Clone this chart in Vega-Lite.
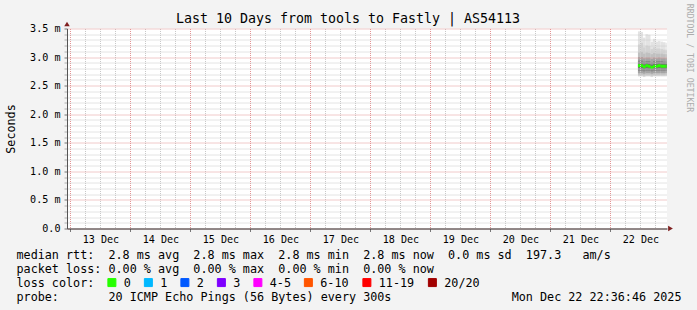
{
  "$schema": "https://vega.github.io/schema/vega-lite/v6.json",
  "autosize": {"type": "none"},
  "width": 600,
  "height": 200,
  "padding": {"left": 67, "top": 28.5, "right": 30, "bottom": 81.5},
  "background": "#f3f3f3",
  "config": {
    "font": "DejaVu Sans Mono",
    "view": {"fill": "white", "stroke": null}
  },
  "title": {
    "text": "Last 10 Days from tools to Fastly | AS54113",
    "font": "DejaVu Sans Mono",
    "fontSize": 13.3,
    "fontWeight": "normal",
    "color": "black",
    "anchor": "middle",
    "frame": "group",
    "dx": -19,
    "offset": -33.3,
    "baseline": "alphabetic"
  },
  "data": {
    "values": [
      {"start": "2025-12-22T11:00:00", "end": "2025-12-22T12:00:00", "min": 0.00266, "p05": 0.00267, "p10": 0.00269, "p20": 0.00272, "p30": 0.00276, "p40": 0.00281, "med": 0.00285, "p60": 0.00289, "p70": 0.00294, "p80": 0.00300, "p90": 0.00308, "p95": 0.00322, "max": 0.00345, "loss": "0"},
      {"start": "2025-12-22T12:00:00", "end": "2025-12-22T13:00:00", "min": 0.00266, "p05": 0.00267, "p10": 0.00269, "p20": 0.00272, "p30": 0.00276, "p40": 0.00281, "med": 0.00285, "p60": 0.00289, "p70": 0.00294, "p80": 0.00300, "p90": 0.00309, "p95": 0.00325, "max": 0.00344, "loss": "0"},
      {"start": "2025-12-22T13:00:00", "end": "2025-12-22T14:00:00", "min": 0.00265, "p05": 0.00266, "p10": 0.00268, "p20": 0.00271, "p30": 0.00275, "p40": 0.00279, "med": 0.00283, "p60": 0.00287, "p70": 0.00292, "p80": 0.00298, "p90": 0.00306, "p95": 0.00317, "max": 0.00334, "loss": "0"},
      {"start": "2025-12-22T14:00:00", "end": "2025-12-22T15:00:00", "min": 0.00266, "p05": 0.00267, "p10": 0.00269, "p20": 0.00272, "p30": 0.00276, "p40": 0.00281, "med": 0.00285, "p60": 0.00289, "p70": 0.00293, "p80": 0.00299, "p90": 0.00308, "p95": 0.00320, "max": 0.00340, "loss": "0"},
      {"start": "2025-12-22T15:00:00", "end": "2025-12-22T16:00:00", "min": 0.00266, "p05": 0.00267, "p10": 0.00269, "p20": 0.00272, "p30": 0.00276, "p40": 0.00280, "med": 0.00284, "p60": 0.00288, "p70": 0.00293, "p80": 0.00299, "p90": 0.00307, "p95": 0.00319, "max": 0.00339, "loss": "0"},
      {"start": "2025-12-22T16:00:00", "end": "2025-12-22T17:00:00", "min": 0.00265, "p05": 0.00266, "p10": 0.00268, "p20": 0.00271, "p30": 0.00275, "p40": 0.00279, "med": 0.00282, "p60": 0.00286, "p70": 0.00291, "p80": 0.00297, "p90": 0.00305, "p95": 0.00314, "max": 0.00327, "loss": "0"},
      {"start": "2025-12-22T17:00:00", "end": "2025-12-22T18:00:00", "min": 0.00266, "p05": 0.00267, "p10": 0.00269, "p20": 0.00272, "p30": 0.00276, "p40": 0.00280, "med": 0.00284, "p60": 0.00288, "p70": 0.00293, "p80": 0.00299, "p90": 0.00307, "p95": 0.00317, "max": 0.00332, "loss": "0"},
      {"start": "2025-12-22T18:00:00", "end": "2025-12-22T19:00:00", "min": 0.00266, "p05": 0.00267, "p10": 0.00269, "p20": 0.00272, "p30": 0.00276, "p40": 0.00280, "med": 0.00284, "p60": 0.00288, "p70": 0.00293, "p80": 0.00298, "p90": 0.00306, "p95": 0.00315, "max": 0.00327, "loss": "0"},
      {"start": "2025-12-22T19:00:00", "end": "2025-12-22T20:00:00", "min": 0.00266, "p05": 0.00267, "p10": 0.00269, "p20": 0.00272, "p30": 0.00276, "p40": 0.00281, "med": 0.00285, "p60": 0.00289, "p70": 0.00293, "p80": 0.00299, "p90": 0.00306, "p95": 0.00315, "max": 0.00328, "loss": "0"},
      {"start": "2025-12-22T20:00:00", "end": "2025-12-22T21:00:00", "min": 0.00266, "p05": 0.00267, "p10": 0.00269, "p20": 0.00272, "p30": 0.00276, "p40": 0.00280, "med": 0.00284, "p60": 0.00288, "p70": 0.00293, "p80": 0.00298, "p90": 0.00306, "p95": 0.00314, "max": 0.00327, "loss": "0"},
      {"start": "2025-12-22T21:00:00", "end": "2025-12-22T22:00:00", "min": 0.00266, "p05": 0.00267, "p10": 0.00269, "p20": 0.00272, "p30": 0.00276, "p40": 0.00280, "med": 0.00284, "p60": 0.00288, "p70": 0.00292, "p80": 0.00298, "p90": 0.00305, "p95": 0.00313, "max": 0.00326, "loss": "0"},
      {"start": "2025-12-22T22:00:00", "end": "2025-12-22T22:30:00", "min": 0.00266, "p05": 0.00267, "p10": 0.00269, "p20": 0.00272, "p30": 0.00276, "p40": 0.00280, "med": 0.00284, "p60": 0.00288, "p70": 0.00292, "p80": 0.00298, "p90": 0.00305, "p95": 0.00313, "max": 0.00325, "loss": "0"}
    ]
  },
  "resolve": {"axis": {"x": "independent", "y": "independent"}},
  "layer": [
    {
      "mark": {"type": "rect", "color": "#e3e3e3"},
      "encoding": {
        "x": {
          "field": "start", "type": "temporal",
          "scale": {"domain": [{"year": 2025, "month": 12, "date": 12, "hours": 22, "minutes": 36, "seconds": 46}, {"year": 2025, "month": 12, "date": 22, "hours": 22, "minutes": 36, "seconds": 46}], "nice": false},
          "axis": {
            "orient": "bottom",
            "zindex": 1,
            "values": [
              {"year": 2025, "month": 12, "date": 13, "hours": 0}, {"year": 2025, "month": 12, "date": 13, "hours": 6}, {"year": 2025, "month": 12, "date": 13, "hours": 12}, {"year": 2025, "month": 12, "date": 13, "hours": 18},
              {"year": 2025, "month": 12, "date": 14, "hours": 0}, {"year": 2025, "month": 12, "date": 14, "hours": 6}, {"year": 2025, "month": 12, "date": 14, "hours": 12}, {"year": 2025, "month": 12, "date": 14, "hours": 18},
              {"year": 2025, "month": 12, "date": 15, "hours": 0}, {"year": 2025, "month": 12, "date": 15, "hours": 6}, {"year": 2025, "month": 12, "date": 15, "hours": 12}, {"year": 2025, "month": 12, "date": 15, "hours": 18},
              {"year": 2025, "month": 12, "date": 16, "hours": 0}, {"year": 2025, "month": 12, "date": 16, "hours": 6}, {"year": 2025, "month": 12, "date": 16, "hours": 12}, {"year": 2025, "month": 12, "date": 16, "hours": 18},
              {"year": 2025, "month": 12, "date": 17, "hours": 0}, {"year": 2025, "month": 12, "date": 17, "hours": 6}, {"year": 2025, "month": 12, "date": 17, "hours": 12}, {"year": 2025, "month": 12, "date": 17, "hours": 18},
              {"year": 2025, "month": 12, "date": 18, "hours": 0}, {"year": 2025, "month": 12, "date": 18, "hours": 6}, {"year": 2025, "month": 12, "date": 18, "hours": 12}, {"year": 2025, "month": 12, "date": 18, "hours": 18},
              {"year": 2025, "month": 12, "date": 19, "hours": 0}, {"year": 2025, "month": 12, "date": 19, "hours": 6}, {"year": 2025, "month": 12, "date": 19, "hours": 12}, {"year": 2025, "month": 12, "date": 19, "hours": 18},
              {"year": 2025, "month": 12, "date": 20, "hours": 0}, {"year": 2025, "month": 12, "date": 20, "hours": 6}, {"year": 2025, "month": 12, "date": 20, "hours": 12}, {"year": 2025, "month": 12, "date": 20, "hours": 18},
              {"year": 2025, "month": 12, "date": 21, "hours": 0}, {"year": 2025, "month": 12, "date": 21, "hours": 6}, {"year": 2025, "month": 12, "date": 21, "hours": 12}, {"year": 2025, "month": 12, "date": 21, "hours": 18},
              {"year": 2025, "month": 12, "date": 22, "hours": 0}, {"year": 2025, "month": 12, "date": 22, "hours": 6}, {"year": 2025, "month": 12, "date": 22, "hours": 12}, {"year": 2025, "month": 12, "date": 22, "hours": 18}
            ],
            "labelExpr": "hours(datum.value) == 12 ? timeFormat(datum.value, '%d %b') : ''",
            "labelOverlap": false,
            "labelFlush": false,
            "labelBound": false,
            "labelFont": "DejaVu Sans Mono",
            "labelFontSize": 10.1,
            "labelColor": "black",
            "labelPadding": 3,
            "grid": true,
            "gridColor": {"condition": {"test": "hours(datum.value) == 0", "value": "#e39494"}, "value": "#c8c8c8"},
            "gridDash": [1, 1],
            "gridWidth": 1,
            "ticks": true,
            "tickSize": 3,
            "tickColor": {"condition": {"test": "hours(datum.value) == 0", "value": "#777777"}, "value": "transparent"},
            "domainColor": "#333333",
            "domainWidth": 1,
            "title": [
              "median rtt: \u00a02.8 ms avg \u00a02.8 ms max \u00a02.8 ms min \u00a02.8 ms now \u00a00.0 ms sd \u00a0197.3 \u00a0\u00a0am/s",
              "packet loss: 0.00 % avg \u00a00.00 % max \u00a00.00 % min \u00a00.00 % now",
              "loss color:",
              "probe: \u00a0\u00a0\u00a0\u00a0\u00a0\u00a020 ICMP Echo Pings (56 Bytes) every 300s \u00a0\u00a0\u00a0\u00a0\u00a0\u00a0\u00a0\u00a0\u00a0\u00a0\u00a0\u00a0\u00a0\u00a0\u00a0\u00a0Mon Dec 22 22:36:46 2025"
            ],
            "titleFont": "DejaVu Sans Mono",
            "titleFontSize": 11.75,
            "titleFontWeight": "normal",
            "titleColor": "black",
            "titleAlign": "left",
            "titleAngle": 0,
            "titleBaseline": "alphabetic",
            "titleLineHeight": 14,
            "titleX": -51,
            "titleY": 30
          }
        },
        "x2": {"field": "end"},
        "y": {
          "field": "min", "type": "quantitative",
          "scale": {"domain": [0, 0.0035], "nice": false, "zero": true},
          "axis": {
            "orient": "left",
            "zindex": 1,
            "values": [0, 0.0001, 0.0002, 0.0003, 0.0004, 0.0005, 0.0006, 0.0007, 0.0008, 0.0009, 0.001, 0.0011, 0.0012, 0.0013, 0.0014, 0.0015, 0.0016, 0.0017, 0.0018, 0.0019, 0.002, 0.0021, 0.0022, 0.0023, 0.0024, 0.0025, 0.0026, 0.0027, 0.0028, 0.0029, 0.003, 0.0031, 0.0032, 0.0033, 0.0034, 0.0035],
            "labelExpr": "round(datum.value * 10000) % 5 == 0 ? (datum.value == 0 ? '0.0' : format(datum.value * 1000, '.1f') + ' m') : ''",
            "labelOverlap": false,
            "labelFlush": false,
            "labelBound": false,
            "labelFont": "DejaVu Sans Mono",
            "labelFontSize": 10.1,
            "labelColor": "black",
            "labelPadding": 4,
            "grid": true,
            "gridColor": {"condition": {"test": "round(datum.value * 10000) % 5 == 0", "value": "#e39494"}, "value": "#c8c8c8"},
            "gridDash": [1, 1],
            "gridWidth": 1,
            "tickSize": 3,
            "tickColor": {"condition": {"test": "round(datum.value * 10000) % 5 == 0", "value": "#777777"}, "value": "#b0b0b0"},
            "domainColor": "#555555",
            "domainWidth": 1,
            "title": "Seconds",
            "titleFont": "DejaVu Sans Mono",
            "titleFontSize": 11.75,
            "titleFontWeight": "normal",
            "titleColor": "black",
            "titleAngle": -90,
            "titleAlign": "center",
            "titleBaseline": "middle",
            "titleX": -56.5,
            "titleY": 100
          }
        },
        "y2": {"field": "max"}
      }
    },
    {
      "mark": {"type": "rect", "color": "#d3d3d3"},
      "encoding": {
        "x": {"field": "start", "type": "temporal", "axis": null},
        "x2": {"field": "end"},
        "y": {"field": "p05", "type": "quantitative", "axis": null},
        "y2": {"field": "p95"}
      }
    },
    {
      "mark": {"type": "rect", "color": "#c0c0c0"},
      "encoding": {
        "x": {"field": "start", "type": "temporal", "axis": null},
        "x2": {"field": "end"},
        "y": {"field": "p10", "type": "quantitative", "axis": null},
        "y2": {"field": "p90"}
      }
    },
    {
      "mark": {"type": "rect", "color": "#a4a4a4"},
      "encoding": {
        "x": {"field": "start", "type": "temporal", "axis": null},
        "x2": {"field": "end"},
        "y": {"field": "p20", "type": "quantitative", "axis": null},
        "y2": {"field": "p80"}
      }
    },
    {
      "mark": {"type": "rect", "color": "#888888"},
      "encoding": {
        "x": {"field": "start", "type": "temporal", "axis": null},
        "x2": {"field": "end"},
        "y": {"field": "p30", "type": "quantitative", "axis": null},
        "y2": {"field": "p70"}
      }
    },
    {
      "mark": {"type": "rect", "color": "#6f6f6f"},
      "encoding": {
        "x": {"field": "start", "type": "temporal", "axis": null},
        "x2": {"field": "end"},
        "y": {"field": "p40", "type": "quantitative", "axis": null},
        "y2": {"field": "p60"}
      }
    },
    {
      "mark": {"type": "rule", "strokeWidth": 3, "strokeCap": "butt"},
      "encoding": {
        "x": {"field": "start", "type": "temporal", "axis": null},
        "x2": {"field": "end"},
        "y": {
          "field": "med", "type": "quantitative",
          "axis": {
            "orient": "right",
            "labels": false,
            "ticks": false,
            "domain": false,
            "grid": false,
            "title": "RRDTOOL / TOBI OETIKER",
            "titleFont": "DejaVu Sans Mono",
            "titleFontSize": 8.2,
            "titleFontWeight": "normal",
            "titleColor": "#acacac",
            "titleAngle": 90,
            "titleAlign": "center",
            "titleBaseline": "middle",
            "titleX": 21,
            "titleY": 29
          }
        },
        "color": {
          "field": "loss", "type": "nominal",
          "scale": {
            "domain": ["0", "1", "2", "3", "4-5", "6-10", "11-19", "20/20"],
            "range": ["#26ff00", "#00b8ff", "#0059ff", "#7e00ff", "#ff00ff", "#ff5500", "#ff0000", "#a10000"]
          },
          "legend": {
            "title": null,
            "orient": "none",
            "legendX": 39,
            "legendY": 248,
            "direction": "horizontal",
            "labelFont": "DejaVu Sans Mono",
            "labelFontSize": 11.75,
            "labelColor": "black",
            "labelOffset": 6,
            "columnPadding": 10.5,
            "symbolType": "square",
            "symbolSize": 64,
            "symbolStrokeWidth": 1,
            "encode": {
              "symbols": {
                "update": {
                  "fill": {"scale": "color", "field": "value"},
                  "stroke": {"value": "black"},
                  "strokeWidth": {"value": 1},
                  "opacity": {"value": 1}
                }
              }
            }
          }
        }
      }
    },
    {
      "data": {"values": [{}]},
      "mark": {"type": "point", "shape": "triangle-up", "filled": true, "size": 30, "color": "#7f1f1f", "opacity": 1, "yOffset": -4.5},
      "encoding": {
        "x": {"datum": {"year": 2025, "month": 12, "date": 12, "hours": 22, "minutes": 36, "seconds": 46}, "type": "temporal", "axis": null},
        "y": {"datum": 0.0035, "type": "quantitative", "axis": null}
      }
    },
    {
      "data": {"values": [{}]},
      "mark": {"type": "point", "shape": "triangle-right", "filled": true, "size": 30, "color": "#7f1f1f", "opacity": 1, "xOffset": 3.5},
      "encoding": {
        "x": {"datum": {"year": 2025, "month": 12, "date": 22, "hours": 22, "minutes": 36, "seconds": 46}, "type": "temporal", "axis": null},
        "y": {"datum": 0, "type": "quantitative", "axis": null}
      }
    }
  ]
}
